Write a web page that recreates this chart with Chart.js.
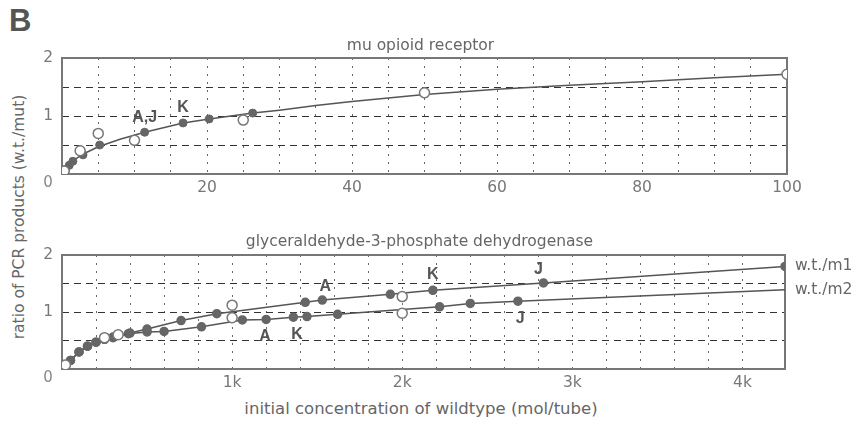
<!DOCTYPE html>
<html>
<head>
<meta charset="utf-8">
<script src="https://cdn.jsdelivr.net/npm/chart.js@4.4.0/dist/chart.umd.min.js"></script>
<style>
	body { margin:0; background:#fff; width:860px; height:428px; overflow:hidden; position:relative; font-family:"DejaVu Sans", Arial, sans-serif; color:#666; }
	canvas { position:absolute; left:0; }
	#mu_chart { top:0; }
	#gapdh_chart { top:200px; }
	.lbl { position:absolute; white-space:nowrap; }
</style>
</head>
<body>
<div class="lbl" style="left:9px;top:3px;font-size:31px;font-weight:bold;color:#555;font-family:'Liberation Sans',Arial,sans-serif;">B</div>
<div class="lbl" style="left:19px;top:217px;font-size:15.5px;transform:translate(-50%,-50%) rotate(-90deg);">ratio of PCR products (w.t./mut)</div>
<div class="lbl" style="left:421px;top:408px;font-size:16.5px;transform:translate(-50%,-50%);">initial concentration of wildtype (mol/tube)</div>
<canvas id="mu_chart" width="860" height="200"></canvas>
<canvas id="gapdh_chart" width="860" height="228"></canvas>
<script>
'use strict';

// mu opioid receptor (x = initial wildtype, y = w.t./mut ratio)
var muCurveX = [0, 0.5, 1, 2, 3, 5, 8, 11.4, 16.7, 20.3, 26.3, 30, 35, 40, 50, 60, 70, 80, 90, 100];
var muCurveY = [0, 0.09, 0.17, 0.27, 0.35, 0.47, 0.6, 0.72, 0.88, 0.95, 1.05, 1.1, 1.18, 1.25, 1.37, 1.46, 1.53, 1.59, 1.66, 1.72];
var muFilledX = [0.5, 1, 1.5, 2.9, 5.2, 11.4, 16.7, 20.3, 26.3, 50];
var muFilledY = [0.08, 0.15, 0.22, 0.33, 0.5, 0.72, 0.88, 0.95, 1.05, 1.38];
var muOpenX = [0.3, 2.5, 5, 10, 25, 50, 100];
var muOpenY = [0.05, 0.4, 0.7, 0.58, 0.93, 1.4, 1.72];
var muTicks = [20, 40, 60, 80, 100];

// glyceraldehyde-3-phosphate dehydrogenase, two mutants
var m1X = [10, 50, 100, 150, 200, 250, 300, 400, 500, 700, 910, 1430, 1530, 1930, 2180, 2830, 4250];
var m1Y = [0.05, 0.15, 0.3, 0.4, 0.47, 0.52, 0.56, 0.63, 0.7, 0.85, 0.97, 1.17, 1.21, 1.31, 1.38, 1.51, 1.8];
var m2X = [10, 50, 100, 150, 200, 250, 300, 390, 500, 600, 820, 1060, 1200, 1360, 1440, 1620, 2220, 2400, 2680, 4250];
var m2Y = [0.05, 0.15, 0.3, 0.4, 0.47, 0.52, 0.55, 0.62, 0.65, 0.66, 0.74, 0.86, 0.87, 0.91, 0.92, 0.96, 1.09, 1.15, 1.19, 1.39];
var gOpenX = [20, 250, 330, 1000, 1000, 2000, 2000];
var gOpenY = [0.07, 0.55, 0.6, 1.12, 0.9, 1.27, 0.98];
var gTicks = [1000, 2000, 3000, 4000];

// clone letters written on the plots
var muNotes = [["A,J", 11.4, 0.98], ["K", 16.7, 1.14]];
var gNotes = [["A", 1547, 1.44], ["K", 2180, 1.65], ["J", 2800, 1.74], ["A", 1194, 0.56], ["K", 1382, 0.61], ["J", 2694, 0.89]];

var FONT = '"DejaVu Sans", Arial, sans-serif';

var pts = function(xs, ys){
	return xs.map(function(x, i){ return {x: x, y: ys[i]}; });
};

// frame, panel title, corner zero and letters
var decor = {
	id: 'decor',
	beforeDatasetsDraw: function(chart){
		var a = chart.chartArea, c = chart.ctx;
		c.save();
		c.strokeStyle = '#777';
		c.lineWidth = 2;
		c.strokeRect(a.left, a.top, a.right - a.left, a.bottom - a.top);
		c.restore();
	},
	afterDatasetsDraw: function(chart){
		var o = chart.options.plugins.decor, a = chart.chartArea, c = chart.ctx;
		var xs = chart.scales.x, ys = chart.scales.y;
		c.save();
		c.textAlign = 'center';
		c.textBaseline = 'middle';
		c.fillStyle = '#666';
		c.font = '15.5px ' + FONT;
		c.fillText(o.title, (a.left + a.right) / 2 - 4, a.top - o.titleGap);
		c.fillStyle = '#888';
		c.font = '15px ' + FONT;
		c.fillText('0', a.left - 14, a.bottom + 9);
		c.fillStyle = '#555';
		c.font = 'bold 16px "Liberation Sans", Arial, sans-serif';
		o.notes.forEach(function(n){
			c.fillText(n[0], xs.getPixelForValue(n[1]), ys.getPixelForValue(n[2]));
		});
		c.textAlign = 'left';
		c.fillStyle = '#666';
		c.font = '15.5px ' + FONT;
		(o.ends || []).forEach(function(e){
			c.fillText(e[0], a.right + 10, ys.getPixelForValue(e[1]));
		});
		c.restore();
	}
};

var make_chart = function(id, datasets, xmax, xstep, tickVals, tickFmt, pad, xh, decorOpts){
	var ctx = document.getElementById(id).getContext('2d');
	return new Chart(ctx, {
		type: 'scatter',
		data: { datasets: datasets },
		options: {
			responsive: false,
			animation: false,
			layout: { padding: pad },
			plugins: { legend: { display: false }, tooltip: { enabled: false }, decor: decorOpts },
			scales: {
				x: {
					type: 'linear', min: 0, max: xmax,
					border: { display: false, dash: [2, 6] },
					grid: {
						drawTicks: false, lineWidth: 1,
						color: function(c){ return (c.tick.value <= 0 || c.tick.value >= xmax) ? 'rgba(0,0,0,0)' : '#666'; }
					},
					ticks: {
						stepSize: xstep, autoSkip: false, maxRotation: 0, padding: 5,
						color: '#777', font: { size: 15.5, family: FONT },
						callback: function(v){ return tickVals.indexOf(v) >= 0 ? tickFmt(v) : ''; }
					},
					afterFit: function(s){ s.height = xh; }
				},
				y: {
					type: 'linear', min: 0, max: 2,
					border: { display: false, dash: [7, 5] },
					grid: {
						drawTicks: false, lineWidth: 1,
						color: function(c){ return (c.tick.value <= 0 || c.tick.value >= 2) ? 'rgba(0,0,0,0)' : '#333'; }
					},
					ticks: {
						stepSize: 0.5, padding: 9,
						color: '#777', font: { size: 15.5, family: FONT },
						callback: function(v){ return (Number.isInteger(v) && v > 0) ? v : ''; }
					},
					afterFit: function(s){ s.width = 62; }
				}
			}
		},
		plugins: [decor]
	});
};

var openSet = function(xs, ys){
	return { data: pts(xs, ys), showLine: false, pointRadius: 5, pointBorderWidth: 1.5,
		pointBackgroundColor: '#fff', pointBorderColor: '#777' };
};
var lineSet = function(xs, ys, r){
	return { data: pts(xs, ys), showLine: true, borderColor: '#555', borderWidth: 1.5,
		pointRadius: r, pointBackgroundColor: '#666', pointBorderColor: '#666' };
};

// top panel
make_chart('mu_chart', [
	openSet(muOpenX, muOpenY),
	{ data: pts(muFilledX, muFilledY), showLine: false, pointRadius: 4, pointBackgroundColor: '#666', pointBorderColor: '#666' },
	lineSet(muCurveX, muCurveY, 0)
], 100, 5, muTicks, function(v){ return v; },
	{ top: 58, right: 73, left: 0, bottom: 0 }, 26,
	{ title: 'mu opioid receptor', titleGap: 12, notes: muNotes });

// bottom panel
make_chart('gapdh_chart', [
	openSet(gOpenX, gOpenY),
	lineSet(m1X, m1Y, 4),
	lineSet(m2X, m2Y, function(c){ return c.dataIndex === m2X.length - 1 ? 0 : 4; })
], 4250, 200, gTicks, function(v){ return (v / 1000) + 'k'; },
	{ top: 55, right: 75, left: 0, bottom: 0 }, 59,
	{ title: 'glyceraldehyde-3-phosphate dehydrogenase', titleGap: 13, notes: gNotes,
		ends: [['w.t./m1', m1Y[m1Y.length - 1]], ['w.t./m2', m2Y[m2Y.length - 1]]] });
</script>
</body>
</html>
